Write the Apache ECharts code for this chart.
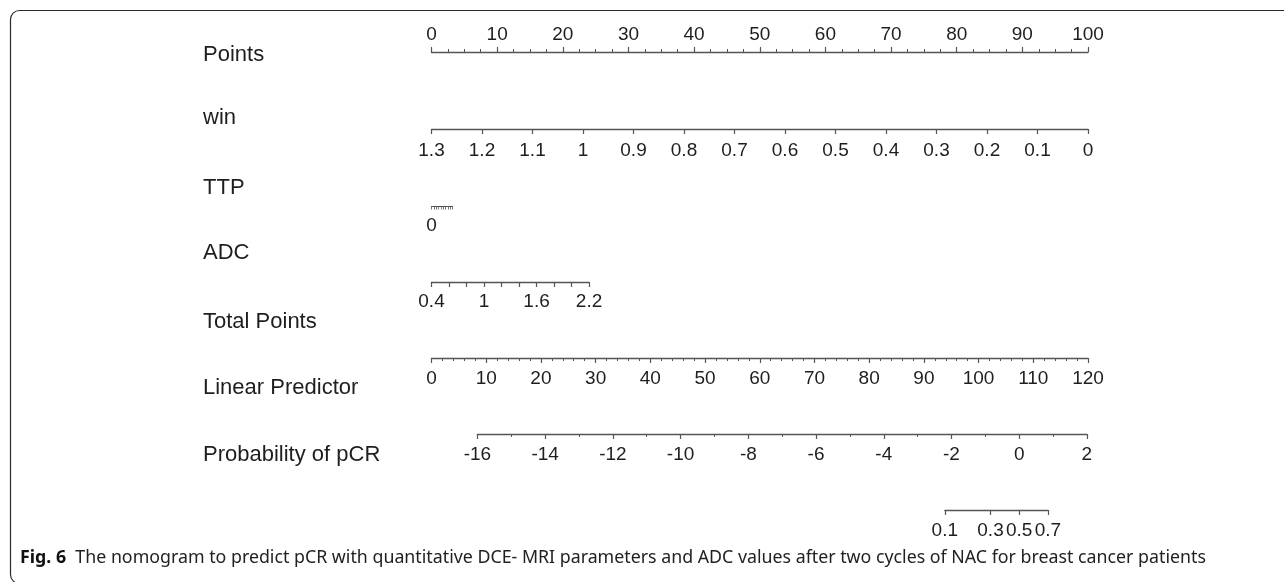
<!DOCTYPE html>
<html>
<head>
<meta charset="utf-8">
<script src="https://cdn.jsdelivr.net/npm/echarts@6/dist/echarts.min.js"></script>
<style>
html,body{margin:0;padding:0;background:#fff;}
#chart{width:1284px;height:582px;}
</style>
</head>
<body>
<div id="chart"></div>
<script>
// nomogram rows
var rowNames = ['Points', 'win', 'TTP', 'ADC', 'Total Points', 'Linear Predictor', 'Probability of pCR'];
var pointsRange = [0, 100];
var winRange = [0, 1.3];          // drawn reversed: 1.3 -> 0 points, 0 -> 100 points
var ttpRange = [0, 18];
var ttpMaxPoints = 3.2;
var adcRange = [0.4, 2.2];
var adcMaxPoints = 24;
var totalRange = [0, 120];
var lpRange = [-16, 2];
var lpAtTotal = [8.4, 119.8];     // total points where the linear predictor starts / ends
var probTicks = [0.1, 0.3, 0.5, 0.7];
var caption = 'The nomogram to predict pCR with quantitative DCE- MRI parameters and ADC values after two cycles of NAC for breast cancer patients';

var chart = echarts.init(document.getElementById('chart'));

var x0 = 431.5, x1 = 1088;
var lineY = [52, 129, 206.5, 282, 358, 434, 510];
var labelY = [55, 118, 188, 253, 322, 388, 455];
function ptsX(p) { return x0 + p / 100 * (x1 - x0); }
function totX(t) { return x0 + t / 120 * (x1 - x0); }
function logit(p) { return Math.log(p / (1 - p)); }

var lineCol = '#555';
var txtCol = '#1e1e1e';
var font = 'Liberation Sans';

var grids = [], xAxes = [], yAxes = [];
function addRow(i, left, width, opts, pos) {
    grids.push({
        left: left, width: width,
        top: pos === 'top' ? lineY[i] : lineY[i] - 10,
        height: 10
    });
    var ax = {
        type: 'value',
        gridIndex: i,
        position: pos,
        splitLine: {show: false},
        axisLine: {show: true, onZero: false, lineStyle: {color: lineCol, width: 1.3}},
        axisTick: {show: true, length: 5, lineStyle: {color: lineCol, width: 1.2}},
        axisLabel: {color: txtCol, fontSize: 19, fontFamily: font, margin: 11,
                    showMinLabel: true, showMaxLabel: true}
    };
    for (var k in opts) {
        if (typeof opts[k] === 'object' && ax[k] && !Array.isArray(opts[k])) {
            ax[k] = Object.assign({}, ax[k], opts[k]);
        } else {
            ax[k] = opts[k];
        }
    }
    xAxes.push(ax);
    yAxes.push({type: 'value', gridIndex: i, show: false});
}

// Points
addRow(0, ptsX(0), ptsX(100) - ptsX(0), {
    min: pointsRange[0], max: pointsRange[1], interval: 10,
    axisLabel: {margin: 8},
    minorTick: {show: true, splitNumber: 4, length: 3, lineStyle: {color: lineCol, width: 1}}
}, 'top');

// win
addRow(1, ptsX(0), ptsX(100) - ptsX(0), {
    min: winRange[0], max: winRange[1], interval: 0.1, inverse: true,
    axisLabel: {margin: 12}
}, 'bottom');

// TTP
addRow(2, ptsX(0), ptsX(ttpMaxPoints) - ptsX(0), {
    min: ttpRange[0], max: ttpRange[1], interval: 2,
    axisTick: {length: 3, lineStyle: {width: 0.8}},
    axisLine: {lineStyle: {width: 1}},
    axisLabel: {margin: 10, customValues: [ttpRange[0]]}
}, 'bottom');

// ADC
addRow(3, ptsX(0), ptsX(adcMaxPoints) - ptsX(0), {
    min: adcRange[0], max: adcRange[1], interval: 0.6,
    axisLabel: {margin: 10},
    minorTick: {show: true, splitNumber: 3, length: 5, lineStyle: {color: lineCol, width: 1.2}}
}, 'bottom');

// Total Points
addRow(4, totX(0), totX(120) - totX(0), {
    min: totalRange[0], max: totalRange[1], interval: 10,
    axisLabel: {margin: 11},
    minorTick: {show: true, splitNumber: 5, length: 3, lineStyle: {color: lineCol, width: 1}}
}, 'bottom');

// Linear Predictor
var lpL = totX(lpAtTotal[0]), lpR = totX(lpAtTotal[1]);
function lpX(v) { return lpL + (v - lpRange[0]) / (lpRange[1] - lpRange[0]) * (lpR - lpL); }
addRow(5, lpL, lpR - lpL, {
    min: lpRange[0], max: lpRange[1], interval: 2,
    axisLabel: {margin: 11},
    minorTick: {show: true, splitNumber: 2, length: 3, lineStyle: {color: lineCol, width: 1}}
}, 'bottom');

// Probability of pCR (on the logit scale of the linear predictor)
var probLogits = probTicks.map(logit);
var pL = lpX(probLogits[0]), pR = lpX(probLogits[probLogits.length - 1]);
addRow(6, pL, pR - pL, {
    min: probLogits[0], max: probLogits[probLogits.length - 1],
    axisTick: {customValues: probLogits},
    axisLabel: {margin: 11, customValues: probLogits, formatter: function (v) {
        var p = 1 / (1 + Math.exp(-v));
        return String(Math.round(p * 10) / 10);
    }}
}, 'bottom');

var graphics = [{
    type: 'rect',
    shape: {x: 10.5, y: 10.5, width: 1300, height: 573, r: 9},
    style: {fill: 'none', stroke: '#2a2a2a', lineWidth: 1.2}
}];
rowNames.forEach(function (name, i) {
    graphics.push({
        type: 'text', x: 203, y: labelY[i],
        style: {text: name, fill: txtCol, font: '22px "Liberation Sans"', textVerticalAlign: 'middle'}
    });
});
graphics.push({
    type: 'text', x: 20, y: 558,
    style: {
        text: '{b|Fig. 6}  ' + caption,
        rich: {b: {fontWeight: 'bold', fontSize: 17.8, fontFamily: 'Noto Sans', fill: '#111'}},
        fontSize: 17.8, fontFamily: 'Noto Sans', fill: '#222', textVerticalAlign: 'middle'
    }
});

var option = {
    animation: false,
    grid: grids,
    xAxis: xAxes,
    yAxis: yAxes,
    graphic: graphics,
    series: []
};
chart.setOption(option);
</script>
</body>
</html>
